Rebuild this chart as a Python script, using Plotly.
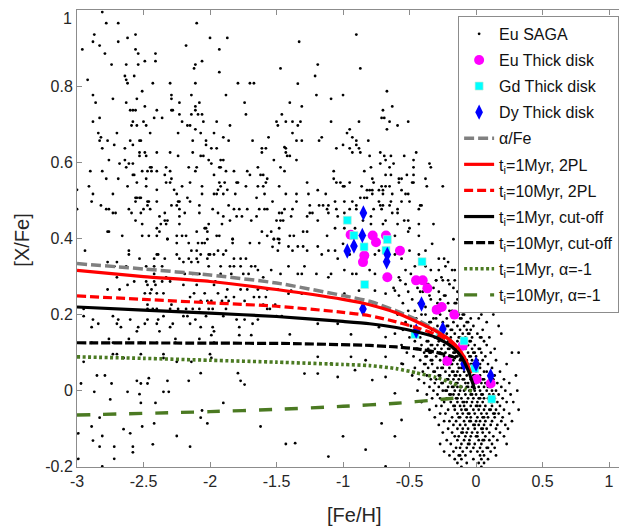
import plotly.graph_objects as go

# ---------------- data ----------------
# SAGA Eu dots, written as rows: ([X/Fe] value, list of [Fe/H] values)
saga_rows_metal_poor_high = [
    (0.995, [-2.81]),
    (0.966, [-2.78, -2.69, -2.10]),
    (0.936, [-2.87, -2.56]),
    (0.927, [-2.62, -2.00, -1.87]),
    (0.917, [-2.88, -2.69]),
    (0.907, [-2.83, -2.18]),
    (0.897, [-2.96, -2.56, -1.93]),
    (0.886, [-2.79, -2.54, -2.41]),
    (0.866, [-2.49, -2.41, -2.06]),
    (0.857, [-2.74, -2.63, -2.54, -2.11]),
    (0.847, [-2.12, -1.47]),
    (0.837, [-1.93]),
    (0.827, [-2.64, -2.57]),
    (0.817, [-2.92, -2.63]),
    (0.808, [-2.62, -2.43, -2.30, -2.11, -1.79, -1.70, -1.67]),
    (0.787, [-2.51]),
    (0.777, [-2.88, -2.29, -2.14, -1.88]),
    (0.767, [-2.73, -2.55, -2.29]),
    (0.757, [-2.86, -2.63, -2.23, -2.08, -1.74]),
    (0.747, [-2.49, -2.11]),
    (0.737, [-2.60, -2.58, -2.56, -2.40, -2.29, -2.28, -2.11]),
    (0.726, [-2.23, -2.14, -2.09, -2.06, -1.73, -1.46]),
    (0.717, [-2.83, -2.42, -2.36]),
    (0.707, [-2.88, -2.58, -2.50, -2.21, -2.05, -1.95, -1.50, -1.43]),
    (0.697, [-2.59, -2.55, -2.48, -2.17, -2.15, -1.85, -1.49]),
    (0.687, [-2.11]),
    (0.677, [-2.84, -2.70, -2.45, -2.24, -2.07, -1.97]),
    (0.666, [-2.82, -1.90, -1.56]),
    (0.657, [-2.83, -2.77, -2.60, -2.53, -2.52, -2.13, -2.03, -1.86, -1.68]),
    (0.646, [-2.72, -2.58, -2.03]),
    (0.637, [-2.81, -2.64, -1.99, -1.95, -1.61, -1.58, -1.43]),
    (0.626, [-2.53, -2.49, -2.40, -2.30, -2.13, -1.61, -1.43]),
    (0.617, [-2.53, -2.48, -2.24, -2.07, -2.05]),
    (0.606, [-2.76, -2.64, -2.01, -1.92, -1.90, -1.52]),
    (0.597, [-2.68, -2.61, -2.58, -1.99]),
    (0.587, [-2.63, -2.45, -2.44, -2.33, -2.16, -2.10, -1.93, -1.92, -1.64, -1.47]),
    (0.577, [-2.90, -2.81, -2.51, -2.47, -2.44, -2.40, -2.30, -2.11, -1.88, -1.82, -1.72]),
    (0.567, [-2.58, -2.57, -2.34, -1.97, -1.70, -1.62, -1.60]),
    (0.557, [-2.78, -2.69, -2.48, -2.29, -1.57]),
    (0.547, [-2.55, -2.33, -2.30, -2.15, -1.93, -1.89, -1.80, -1.79, -1.58]),
    (0.537, [-2.91, -2.62, -2.48, -2.21, -2.06, -1.92, -1.73, -1.64, -1.60, -1.48]),
    (0.528, [-3.00, -2.40, -2.27, -1.94, -1.87]),
    (0.517, [-2.88, -2.73, -2.25, -2.06, -1.97, -1.95, -1.90, -1.81, -1.59]),
    (0.507, [-2.56, -2.55, -2.53, -2.52, -2.17, -1.65]),
    (0.497, [-2.89, -2.56, -2.47, -2.46, -2.40, -2.24, -2.23, -2.15, -1.53]),
    (0.487, [-2.82, -2.47, -2.29, -2.25, -2.08, -1.86]),
    (0.477, [-3.00, -2.78, -2.76, -2.61, -2.50, -2.45, -2.23, -1.98, -1.82, -1.78, -1.72, -1.63, -1.59, -1.57]),
    (0.467, [-2.73, -2.71, -2.59, -2.52, -2.34, -2.19, -2.08, -1.94, -1.48, -1.46]),
    (0.458, [-2.38, -2.23, -1.90, -1.80, -1.76, -1.65]),
    (0.447, [-2.56, -2.34, -2.32, -1.85, -1.69, -1.50, -1.47, -1.45]),
    (0.438, [-2.51, -2.37, -2.33, -2.23, -2.01, -1.91]),
    (0.427, [-2.40, -2.04, -2.03, -1.48]),
    (0.418, [-2.77, -2.76, -2.38, -2.10, -2.02, -1.61, -1.54]),
    (0.407, [-2.66, -2.51, -2.46, -2.40, -2.25, -2.21, -2.18, -1.95, -1.93, -1.57]),
    (0.398, [-2.32, -2.02, -1.83, -1.52, -1.48]),
]

saga_rows_metal_poor_low = [
    (0.399, [-2.32, -1.83, -1.52, -1.49]),
    (0.388, [-2.25, -2.16, -2.09, -2.06, -2.04, -1.83, -1.70, -1.63, -1.48]),
    (0.378, [-1.53]),
    (0.368, [-2.94, -2.61, -2.14, -2.10, -1.94, -1.88, -1.49]),
    (0.358, [-2.61, -2.40, -2.39, -2.25, -2.07, -2.01, -2.00, -1.97, -1.90]),
    (0.347, [-2.53, -2.42, -2.34, -2.23, -2.16, -2.10, -2.02, -1.82, -1.77, -1.73]),
    (0.338, [-2.77, -2.70, -2.20, -2.14, -2.09]),
    (0.327, [-2.72, -2.63, -2.48, -2.42, -2.36, -2.01, -1.92, -1.85, -1.82, -1.77, -1.69, -1.66]),
    (0.317, [-1.64, -1.54]),
    (0.307, [-2.42, -2.19, -2.13, -2.08, -1.92, -1.84, -1.75, -1.71, -1.47]),
    (0.298, [-2.70, -2.33, -1.60]),
    (0.287, [-2.57, -2.48, -2.42, -2.36, -2.30, -1.96]),
    (0.278, [-2.62, -2.47, -2.41, -2.20, -2.10, -1.97]),
    (0.266, [-2.77, -2.68, -2.44, -1.87, -1.77, -1.72, -1.64, -1.57, -1.49]),
    (0.256, [-2.49, -2.45, -2.40, -2.35, -2.12, -2.04, -1.94]),
    (0.246, [-2.15, -1.88, -1.82, -1.67, -1.63, -1.58]),
    (0.236, [-2.07, -2.02, -1.99, -1.91, -1.86, -1.74]),
    (0.226, [-2.47, -2.29, -1.60, -1.51]),
    (0.215, [-2.95, -2.47, -2.43, -2.40, -2.30, -2.24, -2.18, -2.13, -2.08, -2.01, -1.98, -1.88, -1.57, -1.55]),
    (0.196, [-2.95, -2.73, -2.35, -2.20, -2.17, -2.03, -1.90, -1.50, -1.46]),
    (0.187, [-2.88, -2.69, -2.60, -2.47, -2.39, -2.11, -1.80, -1.74, -1.64]),
    (0.176, [-2.84, -2.70, -2.49, -2.40, -2.28, -2.15, -1.68]),
    (0.167, [-2.89, -2.67, -2.54, -2.30, -2.07, -1.98, -1.78]),
    (0.156, [-2.55, -2.38, -1.97]),
    (0.146, [-1.99, -1.78, -1.69]),
    (0.136, [-2.76, -2.61, -2.26, -2.08]),
    (0.126, [-2.89, -2.73, -2.52, -2.40, -2.26, -1.97]),
    (0.096, [-2.73, -2.70, -2.52, -2.35, -2.00]),
    (0.086, [-2.65, -2.35, -1.99]),
    (0.076, [-2.95, -2.25, -2.14]),
    (0.046, [-2.07, -1.79]),
    (0.040, [-2.85, -2.79]),
    (0.033, [-2.46]),
    (0.026, [-2.55, -2.32, -2.16, -1.77]),
    (0.019, [-2.97, -2.74, -2.52, -2.47]),
    (0.016, [-1.74]),
    (-0.003, [-2.87, -2.62, -2.35, -2.31]),
    (-0.009, [-2.53]),
    (-0.023, [-2.75]),
    (-0.032, [-2.52, -2.41, -1.90]),
    (-0.052, [-2.06]),
    (-0.071, [-2.83, -2.07]),
    (-0.086, [-2.42, -2.02]),
    (-0.094, [-2.89, -2.51, -1.62]),
    (-0.101, [-2.65]),
    (-0.112, [-2.99, -2.60]),
    (-0.119, [-2.81, -2.25]),
    (-0.131, [-2.88]),
    (-0.140, [-1.43]),
    (-0.141, [-2.43]),
    (-0.147, [-2.83, -2.72, -2.58, -2.15]),
    (-0.162, [-2.58]),
    (-0.179, [-2.99, -2.72]),
    (-0.199, [-2.81]),
]

saga_rows_intermediate_high = [
    (0.936, [-0.90]),
    (0.917, [-1.33]),
    (0.857, [-1.19]),
    (0.847, [-0.87]),
    (0.827, [-1.21]),
    (0.807, [-1.34]),
    (0.787, [-0.67]),
    (0.777, [-1.20, -1.00]),
    (0.767, [-1.09]),
    (0.757, [-1.40]),
    (0.747, [-1.31, -0.63]),
    (0.737, [-0.70]),
    (0.717, [-0.71, -0.69]),
    (0.707, [-1.38, -1.32, -1.09, -0.88, -0.65, -0.51]),
    (0.697, [-1.34, -0.59]),
    (0.687, [-0.95, -0.67]),
    (0.677, [-1.38, -0.97]),
    (0.666, [-1.16, -0.93]),
    (0.657, [-1.35, -1.31, -1.18, -0.90, -0.81]),
    (0.646, [-1.00, -0.90]),
    (0.640, [-1.44]),
    (0.637, [-1.05, -0.95, -0.88]),
    (0.626, [-0.93, -0.87, -0.72, -0.45]),
    (0.617, [-1.42, -1.40, -0.80, -0.69, -0.64, -0.54]),
    (0.606, [-1.35, -0.68, -0.47]),
    (0.597, [-0.72, -0.62, -0.35]),
    (0.587, [-0.79, -0.65, -0.47, -0.34]),
    (0.577, [-1.44, -1.07, -0.84]),
    (0.567, [-0.68, -0.64, -0.52, -0.47]),
    (0.557, [-1.07, -0.78, -0.58, -0.56, -0.38]),
    (0.547, [-1.27, -1.05, -1.02, -0.95, -0.77, -0.58, -0.48, -0.47]),
    (0.537, [-1.00, -0.99, -0.86, -0.71, -0.68, -0.65, -0.37, -0.25]),
    (0.527, [-1.19, -0.82, -0.80, -0.78, -0.73, -0.70, -0.56]),
    (0.517, [-1.43, -1.35, -1.26, -1.13, -0.78, -0.70, -0.63, -0.53, -0.51]),
    (0.507, [-0.87, -0.84, -0.82]),
    (0.497, [-1.35, -1.06, -0.99, -0.93, -0.73, -0.64, -0.56, -0.50]),
    (0.487, [-1.25, -1.18, -1.15, -1.11, -0.90, -0.72, -0.70, -0.65, -0.42, -0.41]),
    (0.477, [-1.44, -1.38, -1.12, -1.05, -0.95, -0.90, -0.77, -0.71, -0.59, -0.43]),
    (0.467, [-1.25, -1.23, -1.11, -0.99, -0.63, -0.59]),
    (0.458, [-1.39, -1.27, -1.04, -0.79]),
    (0.447, [-1.19, -0.85, -0.68, -0.54, -0.51]),
    (0.438, [-0.79, -0.70, -0.59, -0.43, -0.32]),
    (0.427, [-1.06, -0.99, -0.91, -0.50]),
    (0.418, [-1.30, -1.27, -0.51]),
    (0.407, [-1.40, -1.37, -1.12, -0.61, -0.43]),
    (0.398, [-0.17]),
]

saga_rows_intermediate_low = [
    (0.386, [-1.00, -0.33]),
    (0.379, [-1.41, -1.34, -1.30, -1.19]),
    (0.368, [-1.38, -1.27, -1.11, -1.06, -0.73, -0.50, -0.38]),
    (0.358, [-1.16, -0.95, -0.76, -0.61, -0.43]),
    (0.347, [-1.04, -0.56, -0.28, -0.24]),
    (0.338, [-0.21]),
    (0.327, [-1.41, -1.29, -0.46, -0.38, -0.23]),
    (0.317, [-0.99, -0.80, -0.53, -0.34, -0.28, -0.18, -0.16]),
    (0.307, [-1.34, -1.31, -1.20, -1.09, -0.93, -0.90, -0.76, -0.49]),
    (0.298, [-1.11, -0.58, -0.26]),
    (0.290, [-0.30, -0.21, -0.16]),
    (0.263, [-1.39, -1.19, -0.88, -0.76, -0.61]),
    (0.255, [-1.41, -1.31, -0.99, -0.68]),
    (0.176, [-1.19, -1.04]),
    (0.167, [-0.73]),
    (0.150, [-0.61]),
    (0.148, [-1.40, -0.94]),
    (0.141, [-0.68]),
    (0.089, [-1.19, -0.94, -0.68]),
    (0.080, [-0.83]),
    (0.071, [-1.09, -0.56]),
    (0.054, [-0.91]),
    (0.045, [-1.29, -1.19]),
    (0.036, [-1.04, -0.68]),
    (0.028, [-0.78]),
    (-0.007, [-0.61]),
    (-0.077, [-0.56]),
    (-0.086, [-0.71]),
    (-0.120, [-1.00, -0.61]),
    (-0.138, [-1.36]),
    (-0.155, [-0.83]),
    (-0.173, [-1.11]),
    (-0.199, [-0.68]),
]

saga_rows_solar = [
    (0.29, [-0.57, -0.46, -0.45, -0.30, -0.25]),
    (0.28, [-0.53, -0.39, -0.37, -0.36, -0.20]),
    (0.27, [-0.62, -0.44, -0.32, -0.17]),
    (0.26, [-0.51, -0.42, -0.40, -0.28, -0.14]),
    (0.25, [-0.58, -0.35, -0.24, -0.23]),
    (0.24, [-0.48, -0.34, -0.27, -0.14, -0.05]),
    (0.23, [-0.55, -0.43, -0.42, -0.29, -0.21, -0.16, -0.15]),
    (0.22, [-0.38, -0.27, -0.25, -0.11, -0.02]),
    (0.21, [-0.51, -0.46, -0.32, -0.20, -0.18, -0.08, 0.01]),
    (0.20, [-0.59, -0.41, -0.38, -0.27, -0.13, -0.10, -0.09, 0.04, 0.13]),
    (0.19, [-0.45, -0.32, -0.30, -0.22, -0.12, -0.11, -0.04, 0.02]),
    (0.18, [-0.53, -0.41, -0.35, -0.34, -0.25, -0.17, -0.07, -0.06, 0.08]),
    (0.17, [-0.49, -0.38, -0.29, -0.22, -0.21, -0.14, -0.09, -0.02, 0.17]),
    (0.16, [-0.55, -0.44, -0.43, -0.33, -0.25, -0.19, -0.18, -0.12, -0.07, -0.04, 0.05]),
    (0.15, [-0.40, -0.35, -0.34, -0.27, -0.22, -0.16, -0.10, -0.06, -0.05, 0.01, 0.19]),
    (0.14, [-0.50, -0.42, -0.31, -0.30, -0.24, -0.19, -0.13, -0.12, -0.08, -0.03, 0.03, 0.04, 0.10]),
    (0.13, [-0.46, -0.37, -0.36, -0.28, -0.21, -0.20, -0.14, -0.09, -0.05, -0.04, 0.06]),
    (0.12, [-0.56, -0.41, -0.34, -0.33, -0.29, -0.24, -0.18, -0.17, -0.11, -0.07, -0.06, -0.01, 0.08]),
    (0.11, [-0.45, -0.44, -0.36, -0.31, -0.26, -0.21, -0.20, -0.15, -0.12, -0.08, -0.03, 0.02, 0.03, 0.14]),
    (0.10, [-0.52, -0.39, -0.35, -0.34, -0.27, -0.23, -0.17, -0.16, -0.11, -0.06, -0.02, -0.01, 0.04, 0.11, 0.27, 0.32]),
    (0.09, [-0.47, -0.38, -0.37, -0.30, -0.24, -0.20, -0.15, -0.14, -0.09, -0.05, -0.04, 0.00, 0.07]),
    (0.08, [-0.42, -0.34, -0.33, -0.27, -0.22, -0.21, -0.17, -0.12, -0.08, -0.07, -0.03, 0.01, 0.05, 0.15]),
    (0.07, [-0.55, -0.39, -0.38, -0.33, -0.24, -0.19, -0.18, -0.14, -0.10, -0.07, -0.04, -0.03, 0.03, 0.09, 0.23]),
    (0.06, [-0.46, -0.36, -0.29, -0.26, -0.25, -0.20, -0.13, -0.11, -0.10, -0.06, -0.01, 0.02, 0.03, 0.12]),
    (0.05, [-0.40, -0.32, -0.31, -0.23, -0.18, -0.17, -0.14, -0.09, -0.05, -0.04, 0.00, 0.06, 0.08, 0.18]),
    (0.04, [-0.48, -0.37, -0.28, -0.27, -0.20, -0.16, -0.15, -0.12, -0.07, -0.02, -0.01, 0.03, 0.10, 0.14, 0.30]),
    (0.03, [-0.43, -0.34, -0.30, -0.22, -0.21, -0.17, -0.13, -0.10, -0.09, -0.04, 0.01, 0.05, 0.06, 0.13, 0.21]),
    (0.02, [-0.39, -0.31, -0.26, -0.25, -0.19, -0.15, -0.14, -0.08, -0.06, -0.01, 0.00, 0.04, 0.07, 0.11, 0.16, 0.25]),
    (0.01, [-0.35, -0.28, -0.21, -0.18, -0.17, -0.14, -0.11, -0.07, -0.06, -0.03, 0.02, 0.06, 0.09, 0.10, 0.19]),
    (0.00, [-0.44, -0.32, -0.25, -0.23, -0.22, -0.16, -0.12, -0.09, -0.05, -0.04, -0.01, 0.03, 0.08, 0.12, 0.15, 0.22, 0.31]),
    (-0.01, [-0.37, -0.29, -0.20, -0.19, -0.17, -0.13, -0.08, -0.04, -0.03, 0.00, 0.04, 0.05, 0.10, 0.13, 0.17, 0.26]),
    (-0.02, [-0.33, -0.27, -0.22, -0.15, -0.14, -0.11, -0.06, -0.02, 0.02, 0.03, 0.06, 0.09, 0.14, 0.20]),
    (-0.03, [-0.41, -0.24, -0.19, -0.14, -0.10, -0.09, -0.07, -0.03, 0.01, 0.05, 0.11, 0.12, 0.16, 0.23, 0.28]),
    (-0.04, [-0.30, -0.26, -0.17, -0.16, -0.12, -0.09, -0.04, 0.00, 0.01, 0.03, 0.07, 0.12, 0.18]),
    (-0.05, [-0.35, -0.21, -0.16, -0.11, -0.08, -0.07, -0.02, 0.02, 0.06, 0.10, 0.11, 0.15, 0.21, 0.32]),
    (-0.06, [-0.27, -0.23, -0.14, -0.10, -0.06, -0.05, -0.01, 0.04, 0.08, 0.13, 0.14, 0.17, 0.25]),
    (-0.07, [-0.31, -0.18, -0.13, -0.12, -0.07, -0.04, 0.01, 0.05, 0.06, 0.09, 0.14, 0.20]),
    (-0.08, [-0.24, -0.20, -0.15, -0.09, -0.05, -0.04, 0.00, 0.03, 0.07, 0.12, 0.19, 0.27]),
    (-0.09, [-0.28, -0.17, -0.12, -0.08, -0.02, -0.01, 0.02, 0.06, 0.11, 0.16, 0.22]),
    (-0.10, [-0.21, -0.14, -0.10, -0.06, -0.01, 0.04, 0.05, 0.08, 0.15, 0.24]),
    (-0.11, [-0.25, -0.18, -0.11, -0.10, -0.07, -0.03, 0.01, 0.05, 0.10, 0.18]),
    (-0.12, [-0.16, -0.13, -0.08, -0.04, 0.00, 0.01, 0.07, 0.13, 0.21]),
    (-0.13, [-0.22, -0.14, -0.09, -0.05, 0.02, 0.05, 0.06, 0.10, 0.16]),
    (-0.14, [-0.27, -0.19, -0.11, -0.06, -0.05, -0.01, 0.04, 0.12, 0.23]),
    (-0.15, [-0.15, -0.12, -0.07, -0.02, 0.03, 0.08, 0.09, 0.14]),
    (-0.16, [-0.24, -0.17, -0.10, -0.04, 0.01, 0.05, 0.11]),
    (-0.17, [-0.20, -0.13, -0.12, -0.08, 0.03, 0.06, 0.15]),
    (-0.18, [-0.16, -0.11, -0.02, 0.04, 0.09]),
    (-0.19, [-0.14, -0.07, 0.02, 0.06]),
    (-0.20, [-0.11, 0.04]),
]

# Thick disk stars
eu_thick_feh = [-0.943, -0.777, -0.752, -0.677, -0.85, -0.84, -0.572, -0.667, -0.451, -0.401,
                -0.366, -0.296, -0.258, -0.163, -0.216, -0.10, 0.005, 0.11]
eu_thick_xfe = [0.410, 0.408, 0.390, 0.408, 0.338, 0.355, 0.368, 0.298, 0.290, 0.290,
                0.269, 0.213, 0.220, 0.200, 0.078, 0.118, 0.030, 0.019]
gd_thick_feh = [-0.968, -0.918, -0.842, -0.667, -0.677, -0.406, -0.837, -0.459, -0.27, -0.09, -0.01, 0.118]
gd_thick_xfe = [0.448, 0.408, 0.378, 0.397, 0.369, 0.339, 0.279, 0.148, 0.149, 0.131, 0.058, -0.022]
dy_thick_feh = [-0.847, -0.855, -0.918, -0.968, -0.667, -0.672, -0.41, -0.85, -0.45, -0.25, -0.09, 0.00, 0.11]
dy_thick_xfe = [0.467, 0.408, 0.380, 0.367, 0.358, 0.339, 0.228, 0.215, 0.157, 0.162, 0.070, 0.070, 0.039]

# Model curves
alpha_feh = [-3.0, -2.5, -2.0, -1.5, -1.0, -0.8, -0.6, -0.45, -0.33, -0.23, -0.15]
alpha_xfe = [0.334, 0.320, 0.304, 0.283, 0.250, 0.235, 0.210, 0.187, 0.165, 0.142, 0.118]

pl2_1_feh = [-3.0, -2.5, -2.0, -1.5, -1.0, -0.8, -0.6, -0.45, -0.33, -0.23, -0.16, -0.11, -0.07, -0.04]
pl2_1_xfe = [0.316, 0.300, 0.287, 0.266, 0.240, 0.226, 0.205, 0.182, 0.162, 0.142, 0.122, 0.100, 0.075, 0.045]

pl2_10_feh = [-3.0, -2.5, -2.0, -1.5, -1.0, -0.8, -0.6, -0.45, -0.33, -0.23, -0.15, -0.10, -0.06]
pl2_10_xfe = [0.249, 0.240, 0.231, 0.222, 0.206, 0.197, 0.181, 0.166, 0.152, 0.136, 0.112, 0.090, 0.062]

cut_1_feh = [-3.0, -2.5, -2.0, -1.5, -1.0, -0.8, -0.6, -0.45, -0.30, -0.18, -0.11, -0.06, -0.035, -0.01]
cut_1_xfe = [0.220, 0.212, 0.204, 0.195, 0.182, 0.176, 0.166, 0.155, 0.140, 0.115, 0.089, 0.054, 0.030, 0.003]

cut_10_feh = [-3.0, -2.0, -1.4, -0.8, -0.6, -0.45, -0.30, -0.20, -0.10]
cut_10_xfe = [0.126, 0.125, 0.124, 0.119, 0.115, 0.110, 0.101, 0.092, 0.080]

a1_1_feh = [-3.0, -2.5, -2.0, -1.5, -1.0, -0.8, -0.6, -0.45, -0.30, -0.18, -0.08, -0.02]
a1_1_xfe = [0.089, 0.085, 0.080, 0.075, 0.069, 0.066, 0.058, 0.047, 0.035, 0.020, 0.005, -0.003]

a1_10_feh = [-3.0, -2.0, -1.5, -1.0, -0.6, -0.3, -0.11]
a1_10_xfe = [-0.064, -0.055, -0.049, -0.041, -0.033, -0.024, -0.018]

x_ticks = [-3, -2.5, -2, -1.5, -1, -0.5, 0, 0.5, 1]
x_tick_labels = ["-3", "-2.5", "-2", "-1.5", "-1", "-0.5", "0", "0.5", "1"]
y_ticks = [-0.2, 0, 0.2, 0.4, 0.6, 0.8, 1]
y_tick_labels = ["-0.2", "0", "0.2", "0.4", "0.6", "0.8", "1"]

# ---------------- build ----------------
saga_feh, saga_xfe = [], []
for rows in (saga_rows_metal_poor_high, saga_rows_metal_poor_low,
             saga_rows_intermediate_high, saga_rows_intermediate_low, saga_rows_solar):
    for yv, xs in rows:
        for xv in xs:
            saga_feh.append(xv)
            saga_xfe.append(yv)

FONT = "Liberation Sans, Arial, Helvetica, sans-serif"
GREEN = "#4b7a22"

fig = go.Figure()
fig.add_trace(go.Scatter(x=saga_feh, y=saga_xfe, mode="markers", name="Eu SAGA",
                         marker=dict(size=2.8, color="black"), legendgroup="a"))
fig.add_trace(go.Scatter(x=eu_thick_feh, y=eu_thick_xfe, mode="markers", name="Eu Thick disk",
                         marker=dict(size=10, color="#ff00ff", symbol="circle", line=dict(width=0)),
                         legendgroup="b"))
fig.add_trace(go.Scatter(x=gd_thick_feh, y=gd_thick_xfe, mode="markers", name="Gd Thick disk",
                         marker=dict(size=8, color="#00ffff", symbol="square",
                                     line=dict(width=0.6, color="#c8e8d0")),
                         legendgroup="c"))
fig.add_trace(go.Scatter(x=dy_thick_feh, y=dy_thick_xfe, mode="markers", name="Dy Thick disk",
                         marker=dict(size=11, color="#0000ff", symbol="diamond-tall", line=dict(width=0)),
                         legendgroup="d"))

lines = [
    (alpha_feh, alpha_xfe, "α/Fe", "#808080", 3.5, "10px,4px"),
    (pl2_1_feh, pl2_1_xfe, "t<sub>i</sub>=1Myr, 2PL", "#ff0000", 3.2, "solid"),
    (pl2_10_feh, pl2_10_xfe, "t<sub>i</sub>=10Myr, 2PL", "#ff0000", 3.2, "9px,4px"),
    (cut_1_feh, cut_1_xfe, "t<sub>i</sub>=1Myr, cut-off", "#000000", 3.2, "solid"),
    (cut_10_feh, cut_10_xfe, "t<sub>i</sub>=10Myr, cut-off", "#000000", 3.2, "9px,3px"),
    (a1_1_feh, a1_1_xfe, "t<sub>i</sub>=1Myr, α=-1", GREEN, 3.6, "3px,2.5px"),
    (a1_10_feh, a1_10_xfe, "t<sub>i</sub>=10Myr, α=-1", GREEN, 3.4, "13px,13px"),
]
for i, (xs, ys, name, color, w, dash) in enumerate(lines):
    fig.add_trace(go.Scatter(x=xs, y=ys, mode="lines", name=name,
                             line=dict(color=color, width=w, dash=dash, shape="spline", smoothing=0.6),
                             legendgroup="l%d" % i))

axis_common = dict(showgrid=False, zeroline=False, showline=True, linecolor="#8c8c8c", linewidth=1,
                   mirror="ticks", ticks="inside", ticklen=5, tickcolor="#8c8c8c", automargin=False,
                   tickfont=dict(size=16, color="#262626", family=FONT))

# top y label drawn as an annotation just inside the page so it is not clipped
y_tick_text = [lab if v != 1 else "" for v, lab in zip(y_ticks, y_tick_labels)]

# The page places the figure 8 px in from the window's top-left corner,
# so margins are chosen to put the axes where the reference has them.
fig.update_layout(
    width=627, height=531,
    margin=dict(l=69, r=0, t=2, b=72),
    paper_bgcolor="white", plot_bgcolor="white",
    font=dict(family=FONT, color="#262626"),
    xaxis=dict(range=[-3, 1.195], tickvals=x_ticks, ticktext=x_tick_labels, **axis_common),
    yaxis=dict(range=[-0.2005, 1.0005], tickvals=y_ticks, ticktext=y_tick_text, **axis_common),
    legend=dict(x=0.683, y=0.987, xanchor="left", yanchor="top",
                bgcolor="white", bordercolor="#8c8c8c", borderwidth=1,
                font=dict(size=16, color="#111111", family=FONT),
                tracegroupgap=2.3, itemwidth=30, entrywidth=150, entrywidthmode="pixels"),
    showlegend=True,
    annotations=[
        dict(text=y_tick_labels[-1], xref="paper", yref="paper", x=-0.0075, y=0.9805,
             xanchor="right", yanchor="middle", showarrow=False, borderpad=0,
             font=dict(size=16, color="#262626", family=FONT)),
        dict(text="[Fe/H]", xref="paper", yref="paper", x=0.497, y=-0.105,
             xanchor="center", yanchor="middle", showarrow=False,
             font=dict(size=20, color="#262626", family=FONT)),
        dict(text="[X/Fe]", xref="paper", yref="paper", x=-0.099, y=0.497, textangle=-90,
             xanchor="center", yanchor="middle", showarrow=False,
             font=dict(size=20, color="#262626", family=FONT)),
    ],
)

fig.write_html("out.html")
